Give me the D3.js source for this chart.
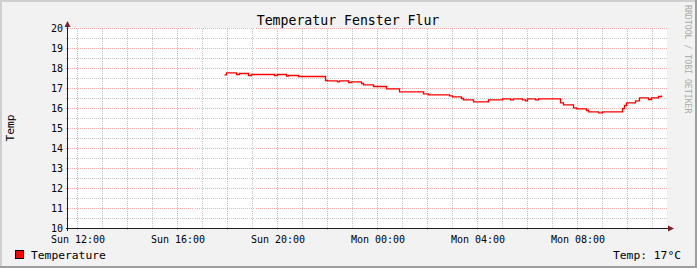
<!DOCTYPE html>
<html>
<head>
<meta charset="utf-8">
<script src="https://cdn.jsdelivr.net/npm/d3@7"></script>
<style>
body { margin: 0; background: #fff; }
text { font-family: "DejaVu Sans Mono", monospace; }
</style>
</head>
<body>
<div id="chart"></div>
<script>
const width = 697;
const height = 268;
const margin = { top: 28, right: 30, bottom: 40, left: 67 };
const innerWidth = width - margin.left - margin.right;   // 600
const innerHeight = height - margin.top - margin.bottom; // 200

// hours since Sunday 00:00 and the measured temperature (°C)
const sampleHours = [17.88, 17.96, 18.36, 18.48, 18.84, 18.96, 19.88, 20.00, 20.36, 20.44,
    20.84, 21.92, 22.00, 22.40, 22.48, 22.84, 22.96, 23.36, 23.44, 23.84,
    24.36, 24.88, 25.84, 26.04, 26.88, 27.00, 27.36, 27.44, 27.84, 28.44,
    29.00, 29.32, 29.44, 29.80, 29.92, 30.00, 30.32, 30.44, 31.32, 31.44,
    31.84, 31.96, 32.36, 32.44, 32.84, 33.00, 33.80, 33.88, 33.96, 34.32,
    34.48, 34.84, 34.96, 35.24, 35.36];
const tempValues = [17.68, 17.78, 17.70, 17.75, 17.65, 17.70, 17.65, 17.70, 17.62, 17.65,
    17.60, 17.40, 17.38, 17.33, 17.38, 17.30, 17.33, 17.25, 17.18, 17.10,
    16.98, 16.83, 16.73, 16.68, 16.63, 16.58, 16.50, 16.43, 16.33, 16.43,
    16.48, 16.43, 16.48, 16.43, 16.38, 16.48, 16.43, 16.48, 16.28, 16.18,
    16.03, 15.98, 15.90, 15.83, 15.78, 15.83, 16.00, 16.15, 16.28, 16.38,
    16.53, 16.45, 16.53, 16.60, 16.65];

const timeRange = [11.6, 35.6];          // Sun 11:36 .. Mon 11:36
const labelHours = [12, 16, 20, 24, 28, 32];
const yTicks = [10, 11, 12, 13, 14, 15, 16, 17, 18, 19, 20];

const titleText = "Temperatur Fenster Flur";
const yTitle = "Temp";
const legendName = "Temperature";
const legendValue = "Temp: 17°C";
const watermark = "RRDTOOL / TOBI OETIKER";

const sunday = Date.UTC(2013, 2, 17);
const toDate = h => new Date(sunday + h * 3600e3);
const data = sampleHours.map((h, i) => ({ t: toDate(h), v: tempValues[i] }));

const svg = d3.select('#chart').append('svg')
    .attr('width', width).attr('height', height);

// background + 3d border
svg.append('rect').attr('width', width).attr('height', height).attr('fill', '#f2f2f2');
svg.append('path').attr('d', `M0,${height} V0 H${width}`).attr('stroke', '#cfcfcf')
    .attr('stroke-width', 2).attr('fill', 'none').attr('transform', 'translate(1,1)');
svg.append('path').attr('d', `M0,${height - 1} H${width - 1} V0`).attr('stroke', '#9e9e9e')
    .attr('stroke-width', 2).attr('fill', 'none');

const xScale = d3.scaleUtc()
    .domain(timeRange.map(toDate))
    .range([margin.left, margin.left + innerWidth]);
const yScale = d3.scaleLinear()
    .domain([10, 20])
    .range([margin.top + innerHeight, margin.top]);

svg.append('rect')
    .attr('x', margin.left).attr('y', margin.top)
    .attr('width', innerWidth).attr('height', innerHeight)
    .attr('fill', '#fff');

const grid = svg.append('g').attr('transform', 'translate(0.5,0.5)')
    .attr('shape-rendering', 'crispEdges');
const minorCol = 'rgba(143,143,143,0.5)';
const majorCol = 'rgba(222,79,79,0.45)';

// vertical grid: minor every hour, major every 2 hours
const hourTicks = xScale.ticks(d3.utcHour.every(1));
grid.selectAll('.vgrid').data(hourTicks).enter().append('line')
    .attr('x1', d => Math.round(xScale(d))).attr('x2', d => Math.round(xScale(d)))
    .attr('y1', margin.top).attr('y2', d => margin.top + innerHeight + (d.getUTCHours() % 2 === 0 ? 2 : 0))
    .attr('stroke', d => d.getUTCHours() % 2 === 0 ? majorCol : minorCol)
    .attr('stroke-dasharray', '1,1');

// horizontal grid: minor every 0.5, major every 1
const halfTicks = d3.range(10.5, 20, 1);
grid.selectAll('.hminor').data(halfTicks).enter().append('line')
    .attr('x1', margin.left - 2).attr('x2', margin.left + innerWidth)
    .attr('y1', d => Math.round(yScale(d))).attr('y2', d => Math.round(yScale(d)))
    .attr('stroke', minorCol).attr('stroke-dasharray', '1,1');
grid.selectAll('.hmajor').data(yTicks.slice(1)).enter().append('line')
    .attr('x1', margin.left - 2).attr('x2', margin.left + innerWidth)
    .attr('y1', d => Math.round(yScale(d))).attr('y2', d => Math.round(yScale(d)))
    .attr('stroke', majorCol).attr('stroke-dasharray', '1,1');

// axes lines
const axisG = svg.append('g').attr('transform', 'translate(0.5,0.5)')
    .attr('shape-rendering', 'crispEdges');
const x0 = margin.left, y0 = margin.top + innerHeight;
axisG.append('line').attr('x1', x0 - 2).attr('x2', margin.left + innerWidth + 2)
    .attr('y1', y0).attr('y2', y0).attr('stroke', '#1f1f1f');
axisG.append('line').attr('x1', x0).attr('x2', x0)
    .attr('y1', y0 + 2).attr('y2', margin.top - 2).attr('stroke', '#1f1f1f');
// arrows
svg.append('path')
    .attr('d', `M${x0 - 2.5},${margin.top - 1} L${x0 + 0.5},${margin.top - 7} L${x0 + 3.5},${margin.top - 1} Z`)
    .attr('fill', '#801f1f');
const xe = margin.left + innerWidth;
svg.append('path')
    .attr('d', `M${xe + 1},${y0 - 2.5} L${xe + 7},${y0 + 0.5} L${xe + 1},${y0 + 3.5} Z`)
    .attr('fill', '#801f1f');

// tick labels via axes
const xAxis = d3.axisBottom(xScale)
    .tickValues(labelHours.map(toDate))
    .tickFormat(d3.utcFormat('%a %H:%M'))
    .tickSize(0).tickPadding(8);
const xg = svg.append('g').attr('transform', `translate(0.5,${y0})`).call(xAxis);
xg.select('.domain').remove();
xg.selectAll('text').attr('font-size', '10px').attr('fill', '#000')
    .attr('font-family', '"DejaVu Sans Mono", monospace');

const yAxis = d3.axisLeft(yScale).tickValues(yTicks).tickFormat(d3.format('d'))
    .tickSize(0).tickPadding(4);
const yg = svg.append('g').attr('transform', `translate(${x0},0.5)`).call(yAxis);
yg.select('.domain').remove();
yg.selectAll('text').attr('font-size', '10px').attr('fill', '#000')
    .attr('font-family', '"DejaVu Sans Mono", monospace');

// data line
const line = d3.line()
    .x(d => xScale(d.t))
    .y(d => yScale(d.v))
    .curve(d3.curveStepAfter);
svg.append('path').datum(data)
    .attr('d', line)
    .attr('transform', 'translate(0.5,0.5)')
    .attr('fill', 'none')
    .attr('stroke', '#ff0000')
    .attr('stroke-width', 1.3);

// title and labels
svg.append('text').attr('x', 348).attr('y', 24.5)
    .attr('text-anchor', 'middle').attr('font-size', '13.2px').text(titleText);
svg.append('text').attr('transform', 'translate(13.5,128) rotate(-90)')
    .attr('text-anchor', 'middle').attr('font-size', '11.3px').text(yTitle);
svg.append('text').attr('transform', 'translate(685,5) rotate(90)')
    .attr('font-size', '8.2px').attr('fill', '#aaaaaa').text(watermark);

// legend
svg.append('rect').attr('x', 15.5).attr('y', 250.5).attr('width', 8).attr('height', 8)
    .attr('fill', '#ff0000').attr('stroke', '#000');
svg.append('text').attr('x', 31).attr('y', 258.5).attr('font-size', '11.3px').text(legendName);
svg.append('text').attr('x', 681).attr('y', 258.5).attr('text-anchor', 'end')
    .attr('font-size', '11.3px').text(legendValue);
</script>
</body>
</html>
